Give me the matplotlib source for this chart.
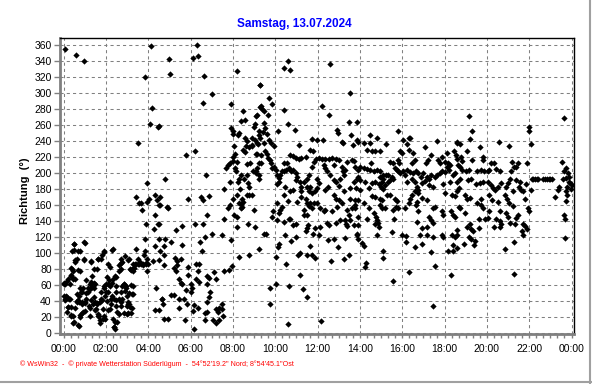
import numpy as np
import matplotlib
matplotlib.use("Agg")
import matplotlib.pyplot as plt
from matplotlib.lines import Line2D
from matplotlib.ticker import MultipleLocator

plt.rcParams['font.family'] = ['Liberation Sans', 'DejaVu Sans']

# wind direction readings, (minute of day, degrees) per 2h block
blk_0002 = [(5,355),(36,347),(59,340),
    (1,63),(9,65),(1,47),(4,43),(10,45),(16,43),(14,33),(9,27),(22,33),(20,23),(27,13),(27,21),(43,9),
    (30,104),(31,111),(42,103),(57,114),(32,91),(39,93),(23,80),(20,73),(24,70),(27,68),(33,68),(18,61),
    (41,79),(46,78),(57,93),(46,57),(51,51),(39,49),(37,40),(43,39),(51,36),(60,38),(48,23),(52,25),
    (62,28),(56,57),(64,66),(65,43),(70,51),(73,34),(75,55),(77,89),(80,72),(82,58),(86,63),(90,61),
    (87,45),(79,42),(84,36),(94,38),(75,22),(92,30),(98,24),(103,13),(101,22),(108,41),(112,30),(114,21),
    (98,92),(108,98),(114,59),(117,47),(105,93),(86,80),(94,80),
    (5,62),(1,61),(13,68),(22,72),(27,77),(20,81),(32,89),(29,111),(24,102),(60,112),(46,102),(58,91),
    (79,90),(99,92),(116,101),
    (8,46),(3,41),(17,43),(13,33),(22,22),(30,14),(32,31),(39,39),(43,47),(41,41),(50,52),(52,39),
    (60,39),(64,50),(69,56),(74,62),(79,64),(86,56),(90,39),(95,37),(102,39),(97,22),(102,16),(112,18),
    (118,18),(107,52),(107,43),(114,56),(41,10),(46,20),(55,27),(88,29),(74,31)]

blk_0204 = [(121,61),(126,52),(130,66),(135,43),(149,41),(143,8),(146,14),(152,27),(163,39),(171,62),
    (177,56),(192,60),(187,50),(182,39),(185,36),(171,25),(182,25),(126,29),(135,36),(149,52),(157,85),
    (163,88),(140,105),
    (115,102),(138,104),(127,86),(131,83),(136,63),(139,68),(122,70),(127,61),(133,59),(146,72),(150,70),
    (148,59),(157,78),(162,80),(167,89),(164,93),(174,96),(183,91),(188,80),(193,80),(196,80),(200,81),
    (204,86),(210,86),(216,89),(221,86),(226,86),(233,88),(237,93),(240,86),(231,103),(212,93),(120,51),
    (122,40),(131,30),(136,47),(143,43),(139,18),(143,8),(146,5),(152,14),(156,24),(150,34),(158,43),
    (164,51),(162,34),(167,59),(171,61),(177,59),(174,53),(167,43),(179,47),(180,34),(184,36),(188,33),
    (180,24),(190,25),(193,32),(193,49),(198,59),(198,49),
    (210,237),(206,170),(215,162),(220,162),(223,154),(231,320),(237,188),(234,136),(231,117),(206,105),
    (229,97),(225,85),(215,86),(206,86),(196,86),(190,79),(196,77),(185,93),(237,77)]

blk_0406 = [(248,359),(250,281),(245,261),(267,257),(237,164),(243,167),(260,172),(264,166),(272,160),
    (259,147),(267,136),(257,130),(272,118),(260,109),(234,86),(253,90),(272,91),(262,57),(260,29),(278,43),
    (300,342),(303,323),(270,258),(289,192),(273,170),(274,160),(293,157),(297,156),(319,129),(335,134),
    (270,136),(288,118),(305,114),(284,109),(336,110),(286,98),(274,102),(284,85),(316,94),(323,90),
    (333,93),(321,85),(314,81),(319,77),(328,68),(333,63),(337,61),(352,83),(354,73),(347,54),(305,48),
    (314,48),(278,43),(281,37),(328,43),(342,43),(350,37),(328,31),(345,16),(295,18),(286,18),(270,29),
    (347,222),(354,167)]

blk_0608 = [(378,360),(367,343),(381,346),(399,321),(420,298),(395,287),(372,227),(405,197),(389,170),
    (394,166),(413,171),(406,147),(373,136),(394,136),(455,142),(474,116),(450,122),(420,124),(401,120),
    (386,114),(392,102),(375,86),(385,86),(380,77),(375,68),(385,64),(361,61),(364,56),(361,52),(408,72),
    (413,69),(427,76),(432,68),(406,62),(415,52),(413,45),(406,39),(370,35),(380,31),(401,25),(408,27),
    (432,30),(441,32),(438,27),(450,37),(450,30),(453,22),(425,16),(432,13),(441,16),(401,16),(366,28),
    (370,5),(469,79),(455,77),(477,84),(476,286),(455,180),(466,210),(472,212),(460,206),(472,189),
    (471,160),(467,156),(479,168),(474,256),(479,252),(481,248)]

blk_0810 = [(493,327),(556,310),(526,98),(554,105),(496,95),
    (510,277),(513,266),(504,265),(543,261),(547,271),(540,257),(497,250),(495,247),(483,233),(486,223),
    (479,220),(481,215),(485,206),(488,202),(491,214),(495,189),(497,193),(502,198),(500,180),(512,193),
    (519,197),(523,187),(526,183),(526,172),(535,172),(519,172),(507,168),(510,164),(502,161),(497,162),
    (504,156),(507,158),(493,173),(491,145),(483,147),(540,154),(493,133),(523,136),(542,132),(513,244),
    (519,240),(516,233),(513,226),(510,229),(526,232),(533,233),(521,211),(528,212),(533,235),(535,243),
    (542,241),(549,237),(545,223),(549,224),(554,212),(538,202),(545,200),(547,202),(554,197),(557,282),
    (554,247),(551,236),
    (557,310),(582,293),(592,286),(559,283),(563,280),(568,277),(579,272),(549,272),(568,262),(570,256),
    (554,252),(566,251),(576,248),(557,243),(568,237),(582,241),(587,237),(596,234),(570,227),(576,223),
    (579,219),(585,216),(589,212),(559,212),(554,193),(560,222),(592,206),(596,208),(549,206),(568,124),
    (592,145),(573,124),(585,56),(585,37)]

blk_1012 = [(636,340),(626,331),(643,328),(625,279),(636,261),(655,254),(606,197),(601,204),(610,194),
    (615,197),(610,189),(606,186),(620,202),(625,212),(634,213),(643,222),(651,221),(660,219),(667,217),
    (674,219),(686,220),(700,229),(707,227),(719,241),(703,242),(667,235),(625,202),(632,204),(639,206),
    (645,202),(651,204),(658,200),(662,195),(660,191),(670,189),(672,183),(674,177),(674,170),(681,189),
    (689,193),(695,197),(705,208),(709,214),(717,218),(719,193),(719,181),(714,177),(705,175),(700,183),
    (690,183),(695,177),(686,168),(690,163),(695,159),(700,162),(705,156),(709,162),(719,162),(681,154),
    (681,147),(689,148),(662,164),(651,179),(643,177),(629,183),(625,172),(636,165),(615,154),(620,157),
    (610,150),(604,162),(594,152),(625,139),(639,143),(643,142),(651,135),(658,136),(606,141),(608,108),
    (611,111),(629,122),(658,120),(646,115),(689,131),(693,135),(686,127),(707,124),(714,131),(698,109),
    (714,94),(705,97),(690,97),(664,97),(670,100),(632,86),(601,95),(669,73),(601,62),(639,59),(679,55),
    (690,45),(636,12),(608,252)]

blk_1214 = [(756,336),(734,284),(753,272),(813,300),(808,264),(832,263),(775,254),(779,250),(816,247),
    (736,241),(723,219),(733,218),(742,218),(752,218),(761,219),(771,217),(780,216),(789,208),(799,204),
    (803,214),(818,216),(822,215),(827,208),(834,204),(737,210),(742,206),(747,202),(756,197),(766,191),
    (773,189),(780,184),(785,193),(792,202),(796,197),(766,210),(723,187),(728,156),(737,152),(742,154),
    (723,122),(728,133),(747,137),(752,135),(749,116),(771,137),(768,117),(777,107),(785,141),(802,136),
    (803,134),(811,141),(822,135),(799,119),(832,124),(836,118),(808,97),(796,92),(758,90),(730,15),
    (832,241),(820,235),(789,239),(792,237),(813,168),(827,166),(830,181),(803,154),(818,156),(827,160),
    (836,145),(822,189),(832,193),(813,181),
    (742,179),(750,183),(766,172),(773,168),(780,166),(789,162),(796,177),(775,158),(761,152),(808,147),
    (799,141),(827,156)]

blk_1416 = [(869,247),(888,243),(851,237),(869,237),(914,236),(947,252),(860,229),(874,227),(883,227),
    (898,227),(954,227),(836,239),(871,212),(926,214),(933,213),(949,216),(952,212),(841,208),(851,206),
    (860,205),(869,204),(879,202),(888,204),(898,202),(907,198),(914,197),(921,197),(930,195),(940,206),
    (944,204),(949,202),(954,200),(836,195),(839,191),(855,189),(874,187),(883,189),(893,186),(899,183),
    (905,180),(912,185),(921,189),(926,191),(933,193),(902,189),(907,193),(896,195),(841,179),(867,181),
    (874,171),(883,170),(916,172),(926,172),(940,168),(944,165),(943,158),(935,154),(896,167),(902,166),
    (898,160),(902,156),(912,156),(949,156),(836,166),(851,162),(865,156),(860,142),(881,150),(886,145),
    (888,141),(890,137),(883,136),(893,133),(836,135),(832,123),(846,112),(851,109),(888,122),(930,126),
    (937,142),(907,102),(905,94),(858,87),(855,83),(933,65)]

blk_1618 = [(962,241),(973,236),(978,243),(982,243),(1025,232),(1058,240),(959,225),(978,229),(992,225),
    (987,212),(996,216),(1032,216),(1027,212),(1041,222),(1062,216),(1067,212),(1074,220),(963,202),
    (968,197),(973,204),(982,201),(990,200),(999,202),(1006,200),(1012,195),(1020,200),(1029,195),
    (1037,193),(1043,197),(1053,195),(1059,198),(1067,200),(1072,202),(973,189),(987,192),(996,189),
    (1003,183),(1006,179),(1015,187),(1025,190),(1037,185),(1048,183),(1076,186),(968,156),(978,162),
    (982,168),(987,172),(996,177),(1006,175),(1001,164),(999,160),(1015,169),(1029,166),(1053,158),
    (1072,152),(1046,156),(1076,147),(959,122),(971,121),(971,114),(996,108),(1015,111),(1010,122),
    (1015,131),(1001,139),(1006,152),(1037,145),(1041,141),(1046,137),(1031,133),(1029,122),(1048,120),
    (1072,122),(1076,120),(1041,101),(1053,84),(978,76),(1048,34)]

blk_1820 = [(1086,225),(1106,227),(1114,237),(1081,214),(1090,212),(1095,210),(1112,222),(1116,218),
    (1081,201),(1086,208),(1093,204),(1103,197),(1109,200),(1119,210),(1095,189),(1081,175),(1100,172),
    (1109,171),(1097,152),(1103,147),(1109,145),(1100,122),(1109,120),(1114,129),(1105,110),(1090,102),
    (1103,102),(1114,106),(1097,73),
    (1149,271),(1159,252),(1151,242),(1181,232),(1144,227),(1116,239),(1123,236),(1188,220),(1190,216),
    (1159,216),(1127,220),(1130,215),(1123,208),(1130,204),(1140,202),(1149,204),(1173,202),(1183,204),
    (1192,202),(1125,193),(1146,191),(1154,192),(1168,186),(1181,187),(1188,189),(1116,189),(1120,181),
    (1137,173),(1144,168),(1152,169),(1116,177),(1183,167),(1173,162),(1183,160),(1188,156),(1120,158),
    (1125,156),(1137,150),(1194,142),(1178,143),(1152,136),(1156,130),(1144,133),(1162,128),(1178,131),
    (1166,115),(1164,110),(1149,120),(1154,117),(1135,111),(1116,122)]

blk_2022 = [(1234,238),(1262,234),(1211,213),(1219,212),(1272,214),(1288,212),(1284,208),(1314,213),
    (1202,202),(1207,204),(1226,205),(1236,202),(1269,202),(1277,207),(1267,193),(1284,191),(1293,189),
    (1204,189),(1211,185),(1216,181),(1223,179),(1231,183),(1240,187),(1255,183),(1260,187),(1274,177),
    (1291,182),(1296,179),(1303,177),(1312,186),(1205,172),(1214,166),(1231,164),(1250,172),(1258,167),
    (1264,162),(1274,159),(1307,168),(1317,156),(1319,152),(1207,152),(1236,152),(1255,150),(1260,145),
    (1288,147),(1284,144),(1202,144),(1226,142),(1236,140),(1240,136),(1221,133),(1267,137),(1279,136),
    (1303,136),(1307,134),(1315,130),(1301,127),(1303,123),(1236,133),(1277,114),(1250,105),(1277,74)]

blk_2224 = [(1320,257),(1320,252),(1324,236),(1420,268),(1413,214),(1423,206),(1418,202),(1327,192),
    (1331,192),(1336,192),(1341,192),(1346,192),(1360,192),(1365,192),(1370,192),(1375,192),(1380,192),
    (1384,192),(1325,179),(1403,179),(1405,182),(1394,170),(1415,193),(1425,194),(1432,189),(1437,187),
    (1428,183),(1425,177),(1428,172),(1423,165),(1418,147),(1421,143),(1421,119),(1434,195),(1438,180),
    (1440,185),(1430,200)]

blocks = [blk_0002, blk_0204, blk_0406, blk_0608, blk_0810, blk_1012,
          blk_1214, blk_1416, blk_1618, blk_1820, blk_2022, blk_2224]
pts = np.array([p for b in blocks for p in b], dtype=float)
minutes, richtung = pts[:, 0], pts[:, 1]

x_ticks = list(range(0, 1441, 120))
x_labels = ['00:00', '02:00', '04:00', '06:00', '08:00', '10:00', '12:00',
            '14:00', '16:00', '18:00', '20:00', '22:00', '00:00']

fig = plt.figure(figsize=(5.92, 3.84), dpi=100)
ax = fig.add_axes([60/592, 1 - 334/384, 514/592, (334 - 37.5)/384])

ax.plot(minutes, richtung, 'D', color='black', ms=3.2, mew=0, ls='none', zorder=3)

ax.set_xlim(-10, 1447)
ax.set_ylim(-1, 369)
ax.set_xticks(x_ticks)
ax.set_xticklabels(x_labels)
ax.xaxis.set_minor_locator(MultipleLocator(20))
ax.set_yticks(range(0, 361, 20))

ax.grid(True, which='major', color='#808080', linestyle=(0, (3, 3)), linewidth=0.75)
ax.set_axisbelow(True)

gray = '#808080'
ax.spines['left'].set_color(gray)
ax.spines['left'].set_linewidth(2)
ax.spines['bottom'].set_color(gray)
ax.spines['bottom'].set_linewidth(2)
ax.spines['top'].set_linewidth(1)
ax.spines['right'].set_linewidth(1)

ax.tick_params(axis='both', which='both', direction='out', color=gray, labelsize=7.5)
ax.tick_params(axis='x', which='major', length=3, width=1, pad=4)
ax.tick_params(axis='x', which='minor', length=3, width=1)
ax.tick_params(axis='y', which='major', length=4, width=1, pad=2)

fig.text(0.497, 0.9375, 'Samstag, 13.07.2024', color='#0000ff', fontsize=8.5,
         fontweight='bold', ha='center', va='center')
fig.text(0.042, 0.503, 'Richtung  (°)', rotation=90, fontsize=8, fontweight='bold',
         ha='center', va='center')
fig.text(20/592, 1 - 364/384,
         '© WsWin32  -  © private Wetterstation Süderlügum  -  54°52\'19.2" Nord; 8°54\'45.1"Ost',
         color='red', fontsize=5.1, ha='left', va='center')

# window frame lines at right and bottom
fig.add_artist(Line2D([589.5/592, 589.5/592], [0, 1], color='#a0a0a0', lw=1.5))
fig.add_artist(Line2D([0, 1], [1 - 381.5/384, 1 - 381.5/384], color='#a0a0a0', lw=1.5))

fig.savefig('out.png', dpi=100)
